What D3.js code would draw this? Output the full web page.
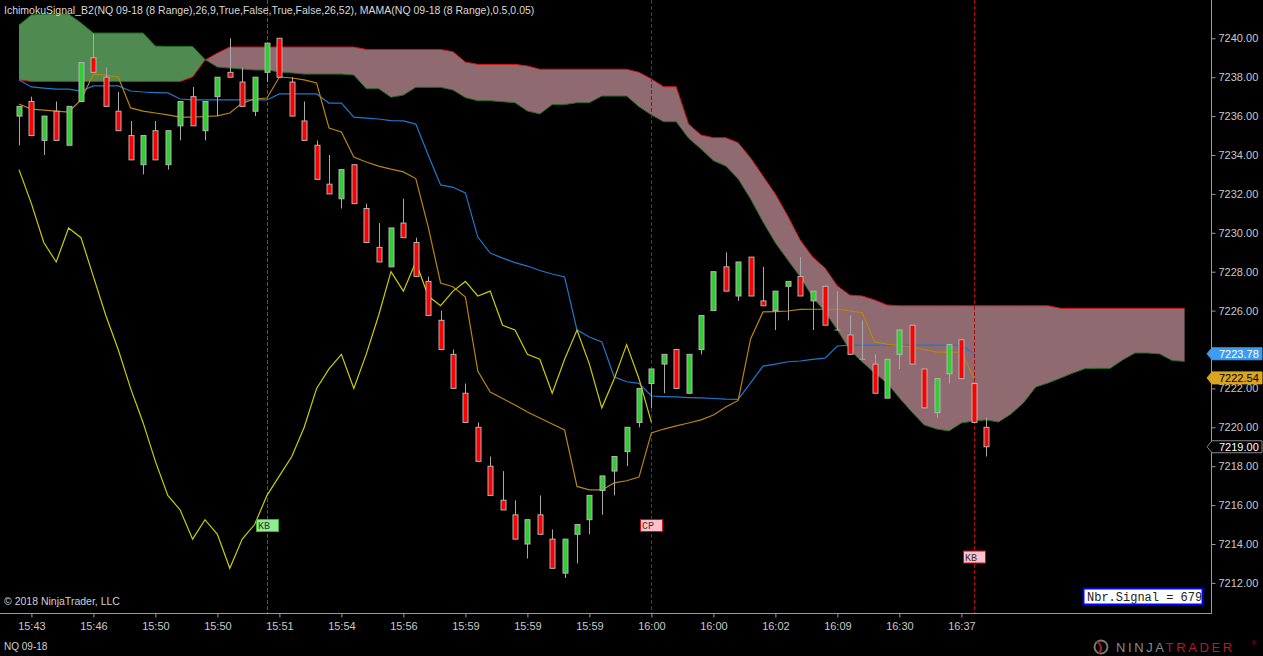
<!DOCTYPE html>
<html>
<head>
<meta charset="utf-8">
<script src="https://cdn.jsdelivr.net/npm/d3@7"></script>
<style>
  body {margin: 0; background: #000; overflow: hidden;}
  svg {display: block;}
  text {font-family: "Liberation Sans", Arial, sans-serif;}
</style>
</head>
<body>
<div id="chart"></div>
<script>
// ---- data (8 range bars, NQ 09-18) ----
let opens = [7236.0,7236.75,7234.75,7236.25,7234.5,7236.75,7239.0,7238.0,7236.25,7235.0,
  7233.5,7235.25,7233.5,7235.5,7237.0,7235.25,7237.0,7238.25,7237.75,7236.25,
  7238.25,7240.0,7237.75,7235.75,7234.5,7232.5,7231.75,7233.5,7231.25,7229.25,
  7228.25,7230.5,7229.5,7227.5,7225.5,7223.75,7221.75,7220.0,7218.0,7216.25,
  7215.5,7214.0,7215.5,7214.25,7212.5,7214.5,7215.25,7216.75,7217.75,7218.75,
  7220.25,7222.25,7223.25,7224.0,7221.75,7224.0,7226.0,7228.25,7226.75,7228.75,
  7226.5,7226.0,7227.25,7227.75,7226.5,7227.25,7225.0,7224.75,7223.5,7223.25,
  7221.5,7223.75,7225.25,7223.0,7220.75,7222.75,7224.5,7222.25,7220.0];
let highs = [7236.5,7237.0,7236.0,7236.75,7236.5,7238.75,7240.25,7238.5,7237.25,7235.75,
  7235.0,7235.75,7235.25,7236.75,7237.5,7236.75,7238.0,7240.0,7238.5,7238.0,
  7239.75,7240.0,7238.0,7236.75,7234.75,7234.0,7233.25,7233.5,7231.5,7230.5,
  7230.25,7231.75,7229.75,7227.75,7226.0,7224.0,7222.25,7220.25,7218.5,7217.75,
  7216.25,7215.25,7216.5,7214.75,7214.25,7215.0,7216.5,7217.5,7218.5,7220.0,
  7222.0,7223.0,7223.75,7224.0,7223.75,7225.75,7228.0,7229.0,7228.5,7228.75,
  7228.25,7227.0,7227.5,7228.75,7227.0,7227.25,7227.0,7225.75,7225.5,7223.75,
  7223.5,7225.0,7225.25,7223.0,7222.5,7224.25,7224.5,7222.25,7220.5];
let lows = [7234.5,7235.0,7234.0,7234.75,7234.5,7236.75,7238.25,7236.5,7235.25,7233.75,
  7233.0,7233.75,7233.25,7234.75,7235.5,7234.75,7236.0,7238.0,7236.5,7236.0,
  7237.75,7238.0,7236.0,7234.75,7232.75,7232.0,7231.25,7231.5,7229.5,7228.5,
  7228.25,7229.75,7227.75,7225.75,7224.0,7222.0,7220.25,7218.25,7216.5,7215.75,
  7214.25,7213.25,7214.5,7212.75,7212.25,7213.0,7214.5,7215.5,7216.5,7218.0,
  7220.0,7221.0,7221.75,7222.0,7221.75,7223.75,7226.0,7227.0,7226.5,7226.75,
  7226.25,7225.0,7225.5,7226.75,7225.0,7225.25,7225.0,7223.75,7223.5,7221.75,
  7221.5,7223.0,7223.25,7221.0,7220.5,7222.25,7222.5,7220.25,7218.5];
let closes = [7236.5,7235.0,7236.0,7234.75,7236.5,7238.75,7238.25,7236.5,7235.25,7233.75,
  7235.0,7233.75,7235.25,7236.75,7235.5,7236.75,7238.0,7238.0,7236.5,7238.0,
  7239.75,7238.0,7236.0,7234.75,7232.75,7232.0,7233.25,7231.5,7229.5,7228.5,
  7230.25,7229.75,7227.75,7225.75,7224.0,7222.0,7220.25,7218.25,7216.5,7215.75,
  7214.25,7215.25,7214.5,7212.75,7214.25,7215.0,7216.5,7217.5,7218.5,7220.0,
  7222.0,7223.0,7223.75,7222.0,7223.75,7225.75,7228.0,7227.0,7228.5,7226.75,
  7226.25,7227.0,7227.5,7226.75,7227.0,7225.25,7225.0,7223.75,7223.5,7221.75,
  7223.5,7225.0,7223.25,7221.0,7222.5,7224.25,7222.5,7220.25,7219.0];

// MAMA (blue) and FAMA (gold)
let mama = [7237.86,7237.50,7237.44,7237.39,7237.39,7237.29,7237.55,7237.55,7237.55,7237.29,
  7237.24,7237.21,7237.19,7236.88,7236.83,7236.83,7236.83,7236.83,7236.83,7236.83,
  7236.83,7237.14,7237.14,7237.14,7237.14,7236.67,7236.67,7235.95,7235.90,7235.85,
  7235.77,7235.75,7235.59,7234.00,7232.46,7232.34,7232.05,7229.78,7228.96,7228.70,
  7228.47,7228.29,7228.06,7227.88,7227.73,7225.00,7224.64,7224.39,7222.59,7222.34,
  7222.26,7221.61,7221.58,7221.56,7221.53,7221.51,7221.48,7221.45,7221.44,7222.28,
  7223.15,7223.25,7223.37,7223.41,7223.49,7223.56,7224.18,7224.23,7224.23,7224.23,
  7224.23,7224.23,7224.23,7224.23,7224.23,7224.23,7224.23,7223.78];
let fama = [7236.62,7236.36,7236.31,7236.26,7236.21,7236.83,7238.16,7238.11,7238.01,7236.42,
  7236.26,7236.16,7236.06,7235.95,7235.95,7235.98,7236.01,7236.16,7236.67,7236.88,
  7236.93,7238.01,7237.96,7237.86,7237.70,7235.39,7235.18,7233.90,7233.64,7233.43,
  7233.27,7233.13,7232.79,7230.30,7227.42,7227.23,7226.70,7222.89,7221.81,7221.48,
  7221.15,7220.79,7220.48,7220.17,7219.86,7216.96,7216.78,7216.78,7217.14,7217.25,
  7217.44,7219.71,7219.91,7220.07,7220.22,7220.38,7220.63,7221.04,7221.38,7224.54,
  7225.93,7225.95,7225.98,7226.06,7226.07,7226.07,7226.07,7225.98,7225.89,7224.39,
  7224.28,7224.21,7224.13,7224.00,7223.87,7223.87,7223.86,7222.54];

// Ichimoku cloud, projected 16 bars past the last bar
let spanA = [7240.68,7241.20,7241.25,7241.25,7241.25,7240.79,7240.27,7240.27,7240.27,7240.27,
  7240.27,7239.60,7239.58,7239.58,7239.58,7238.91,7238.52,7238.47,7238.42,7238.37,
  7238.37,7238.27,7238.22,7238.16,7238.16,7238.16,7238.16,7238.11,7237.41,7237.41,
  7236.97,7237.08,7237.48,7237.48,7237.48,7237.34,7236.95,7236.79,7236.79,7236.74,
  7236.69,7236.26,7236.11,7236.59,7236.59,7236.69,7236.69,7237.03,7237.03,7237.03,
  7236.48,7236.06,7235.71,7235.71,7234.86,7234.31,7233.71,7233.43,7232.77,7231.74,
  7230.56,7229.48,7228.60,7227.73,7226.70,7225.93,7225.00,7223.97,7223.36,7222.79,
  7222.28,7221.51,7220.79,7220.12,7219.91,7219.81,7220.22,7220.32,7220.38,7220.27,
  7220.68,7221.25,7222.07,7222.28,7222.53,7222.79,7223.02,7223.03,7223.03,7223.46,
  7223.82,7223.82,7223.77,7223.43,7223.39];
let spanB = [7237.86,7237.78,7237.78,7237.78,7237.78,7237.78,7237.78,7237.78,7237.78,7237.78,
  7237.78,7237.78,7237.78,7237.78,7238.01,7238.88,7239.24,7239.55,7239.55,7239.55,
  7239.55,7239.55,7239.55,7239.55,7239.55,7239.55,7239.55,7239.55,7239.43,7239.43,
  7239.43,7239.43,7239.43,7239.43,7239.43,7239.31,7238.78,7238.66,7238.66,7238.66,
  7238.66,7238.58,7238.41,7238.41,7238.41,7238.41,7238.41,7238.41,7238.41,7238.41,
  7238.25,7237.91,7237.51,7237.51,7235.59,7235.03,7234.89,7234.89,7234.63,7233.85,
  7232.92,7231.99,7230.86,7229.63,7228.76,7228.19,7227.27,7226.80,7226.75,7226.55,
  7226.29,7226.25,7226.25,7226.25,7226.25,7226.25,7226.25,7226.25,7226.25,7226.25,
  7226.25,7226.25,7226.25,7226.25,7226.12,7226.12,7226.12,7226.12,7226.12,7226.12,
  7226.12,7226.12,7226.12,7226.12,7226.12];

let chikouShift = 26;

let tickIdx = [1,6,11,16,21,26,31,36,41,46,51,56,61,66,71,76];
let tickLabels = ["15:43","15:46","15:50","15:50","15:51","15:54","15:56","15:59",
  "15:59","15:59","16:00","16:00","16:02","16:09","16:30","16:37"];
// 7224.00 sits under the MAMA price marker, so it is not labelled
let priceTicks = [7212,7214,7216,7218,7220,7222,7226,7228,7230,7232,7234,7236,7238,7240];

let signalIdx = [20, 51, 77];
let signalText = ["KB", "CP", "KB"];
let signalPrice = [7214.95, 7214.95, 7213.33];
let signalLong = [true, false, false];

let nbrSignal = 679;

// ---- layout ----
const W = 1263, H = 656;
const axisX = 1211, axisY = 613;

let x = d3.scaleLinear().domain([0, 94]).range([19, 1184.6]);
let y = d3.scaleLinear().domain([7212, 7240]).range([582.9, 38.3]);

let svg = d3.select("#chart").append("svg")
    .attr("width", W)
    .attr("height", H);

svg.append("rect").attr("width", W).attr("height", H).attr("fill", "#000");

// ---- cloud: split into runs where span A is above / below span B ----
function cloudRuns(a, b) {
    let runs = [], cur = null;
    for (let i = 0; i < a.length; i++) {
        let up = a[i] >= b[i];
        if (!cur) { cur = {up: up, pts: [[i, a[i], b[i]]]}; continue; }
        if (up !== cur.up) {
            let d0 = a[i-1] - b[i-1], d1 = a[i] - b[i];
            let t = d0 / (d0 - d1);
            let xi = i - 1 + t, yi = a[i-1] + t * (a[i] - a[i-1]);
            cur.pts.push([xi, yi, yi]);
            runs.push(cur);
            cur = {up: up, pts: [[xi, yi, yi]]};
        }
        cur.pts.push([i, a[i], b[i]]);
    }
    runs.push(cur);
    return runs;
}

let area = d3.area()
    .x(d => x(d[0]))
    .y0(d => y(d[2]))
    .y1(d => y(d[1]));

svg.append("g").selectAll("path")
    .data(cloudRuns(spanA, spanB))
    .enter()
    .append("path")
    .attr("d", d => area(d.pts))
    .attr("fill", d => d.up ? "#4f8a50" : "#8f6a70");

let line = d3.line()
    .x((d, i) => x(i))
    .y(d => y(d));

svg.append("path").attr("d", line(spanB))
    .attr("fill", "none").attr("stroke", "#d81010").attr("stroke-width", 1);
svg.append("path").attr("d", line(spanA))
    .attr("fill", "none").attr("stroke", "#207020").attr("stroke-width", 1);

// ---- signal verticals ----
svg.append("g").selectAll("line")
    .data(signalIdx)
    .enter()
    .append("line")
    .attr("x1", d => Math.round(x(d)) + 0.5)
    .attr("x2", d => Math.round(x(d)) + 0.5)
    .attr("y1", 0)
    .attr("y2", axisY)
    .attr("stroke", (d, i) => signalLong[i] ? "#1f7a1f" : "#b00c0c")
    .attr("stroke-dasharray", "4,2");

// ---- indicator lines ----
svg.append("path").attr("d", line(mama))
    .attr("fill", "none").attr("stroke", "#2277cc").attr("stroke-width", 1.2);
svg.append("path").attr("d", line(fama))
    .attr("fill", "none").attr("stroke", "#b8860b").attr("stroke-width", 1.2);

// lagging span: closes plotted 26 bars back
let chikou = closes.slice(chikouShift, closes.length - 1);
svg.append("path").attr("d", line(chikou))
    .attr("fill", "none").attr("stroke", "#cccc00").attr("stroke-width", 1.2);

// ---- candles ----
let bw = 5;
let candles = svg.append("g").selectAll("g")
    .data(opens.map((o, i) => ({i: i, o: o, h: highs[i], l: lows[i], c: closes[i]})))
    .enter()
    .append("g");

candles.append("line")
    .attr("x1", d => Math.round(x(d.i)) + 0.5)
    .attr("x2", d => Math.round(x(d.i)) + 0.5)
    .attr("y1", d => y(d.h))
    .attr("y2", d => y(d.l))
    .attr("stroke", "#a8a8a8");

candles.filter(d => d.o !== d.c).append("rect")
    .attr("x", d => Math.round(x(d.i)) - 2)
    .attr("width", bw)
    .attr("y", d => y(Math.max(d.o, d.c)))
    .attr("height", d => Math.abs(y(d.o) - y(d.c)))
    .attr("fill", d => d.c > d.o ? "#32cd32" : "#ff0000")
    .attr("stroke", "#b4b4b4")
    .attr("stroke-width", 1);

candles.filter(d => d.o === d.c).append("line")
    .attr("x1", d => Math.round(x(d.i)) - 2.5)
    .attr("x2", d => Math.round(x(d.i)) + 3.5)
    .attr("y1", d => y(d.c))
    .attr("y2", d => y(d.c))
    .attr("stroke", "#a8a8a8");

// ---- signal labels ----
let sig = svg.append("g").selectAll("g")
    .data(signalIdx)
    .enter()
    .append("g")
    .attr("transform", (d, i) => "translate(" + (Math.round(x(d)) - 11) + "," + (y(signalPrice[i]) - 6.5) + ")");

sig.append("rect")
    .attr("x", 0.5).attr("y", 0.5)
    .attr("width", 22).attr("height", 12)
    .attr("fill", (d, i) => signalLong[i] ? "#90ee90" : "#ffc0cb")
    .attr("stroke", (d, i) => signalLong[i] ? "#3cb43c" : "#d01010");

sig.append("text")
    .attr("x", 2).attr("y", 10)
    .style("font-family", "'Liberation Mono', 'Courier New', monospace")
    .style("font-size", "10px")
    .attr("fill", "#333")
    .text((d, i) => signalText[i]);

// ---- axes ----
svg.append("line")
    .attr("x1", axisX + 0.5).attr("x2", axisX + 0.5)
    .attr("y1", 0).attr("y2", axisY)
    .attr("stroke", "#9a9a9a");
svg.append("line")
    .attr("x1", 0).attr("x2", axisX + 1)
    .attr("y1", axisY + 0.5).attr("y2", axisY + 0.5)
    .attr("stroke", "#9a9a9a");

let yAxis = svg.append("g")
    .attr("transform", "translate(" + (axisX + 0.5) + ",0)")
    .call(d3.axisRight(y).tickValues(priceTicks).tickFormat(d3.format(".2f")).tickSize(4).tickPadding(3));
yAxis.select(".domain").remove();
yAxis.selectAll("line").attr("stroke", "#9a9a9a");
yAxis.selectAll("text").attr("fill", "#c8c8c8").style("font-size", "11px");

let xAxis = svg.append("g")
    .attr("transform", "translate(0," + (axisY + 0.5) + ")")
    .call(d3.axisBottom(x).tickValues(tickIdx).tickFormat((d, i) => tickLabels[i]).tickSize(4).tickPadding(5));
xAxis.select(".domain").remove();
xAxis.selectAll("line").attr("stroke", "#9a9a9a");
xAxis.selectAll("text").attr("fill", "#c8c8c8").style("font-size", "11px");

// ---- price markers on the right scale ----
function marker(price, fill, stroke, color) {
    let yc = y(price);
    let g = svg.append("g");
    g.append("path")
        .attr("d", "M" + (axisX - 4) + "," + yc + " L" + (axisX + 1) + "," + (yc - 6) +
            " L" + (W - 1) + "," + (yc - 6) + " L" + (W - 1) + "," + (yc + 6) +
            " L" + (axisX + 1) + "," + (yc + 6) + " Z")
        .attr("fill", fill)
        .attr("stroke", stroke);
    g.append("text")
        .attr("x", axisX + 8)
        .attr("y", yc + 4)
        .attr("fill", color)
        .style("font-size", "11px")
        .text(d3.format(".2f")(price));
}
marker(closes[closes.length - 1], "#000", "#888", "#fff");
marker(fama[fama.length - 1], "#daa520", "#daa520", "#000");
marker(mama[mama.length - 1], "#3d9bf0", "#3d9bf0", "#fff");

// ---- texts ----
svg.append("text")
    .attr("x", 4).attr("y", 14)
    .attr("fill", "#d8d8d8")
    .style("font-size", "10.5px")
    .text("IchimokuSignal_B2(NQ 09-18 (8 Range),26,9,True,False,True,False,26,52), MAMA(NQ 09-18 (8 Range),0.5,0.05)");

svg.append("text")
    .attr("x", 4).attr("y", 605)
    .attr("fill", "#d0d0d0")
    .style("font-size", "10.5px")
    .text("\u00a9 2018 NinjaTrader, LLC");

svg.append("text")
    .attr("x", 4).attr("y", 650)
    .attr("fill", "#d0d0d0")
    .style("font-size", "10px")
    .text("NQ 09-18");

// signal counter box
svg.append("rect")
    .attr("x", 1083.5).attr("y", 588.5)
    .attr("width", 119).attr("height", 16)
    .attr("fill", "#fff")
    .attr("stroke", "#0000ff")
    .attr("stroke-width", 2);
svg.append("text")
    .attr("x", 1087).attr("y", 601)
    .style("font-family", "'Liberation Mono', 'Courier New', monospace")
    .style("font-size", "12px")
    .attr("fill", "#222")
    .text("Nbr.Signal = " + nbrSignal);

// logo
let logo = svg.append("g");
logo.append("circle").attr("cx", 1101).attr("cy", 647).attr("r", 6.5)
    .attr("fill", "none").attr("stroke", "#777").attr("stroke-width", 2);
logo.append("path").attr("d", "M1097,641.5 Q1104,647 1099,653.5")
    .attr("fill", "none").attr("stroke", "#a02020").attr("stroke-width", 2);
let lt = logo.append("text")
    .attr("x", 1116).attr("y", 652)
    .style("font-size", "13px")
    .style("letter-spacing", "2.6px");
lt.append("tspan").attr("fill", "#8a8a8a").text("NINJA");
lt.append("tspan").attr("fill", "#b01e28").text("TRADER");
logo.append("text").attr("x", 1252).attr("y", 645)
    .attr("fill", "#b01e28").style("font-size", "6px").text("\u00ae");
</script>
</body>
</html>
